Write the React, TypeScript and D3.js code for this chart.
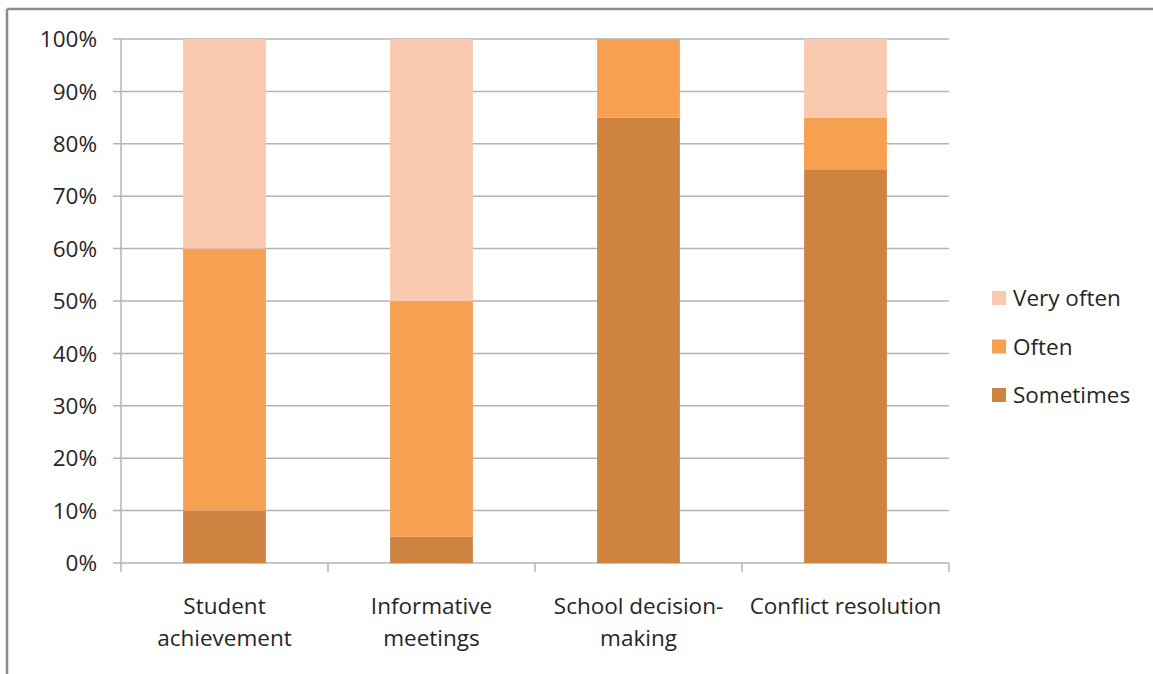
import { useMemo } from "react";
import * as d3 from "d3";

const W = 1153;
const H = 674;
const MARGIN = { top: 39, right: 204, bottom: 111, left: 121 };

const categories = [
  ["Student", "achievement"],
  ["Informative", "meetings"],
  ["School decision-", "making"],
  ["Conflict resolution"],
];
const seriesKeys = ["Sometimes", "Often", "Very often"];
const sometimes = [10, 5, 85, 75];
const often = [50, 45, 15, 10];
const veryOften = [40, 50, 0, 15];
const yTicks = [0, 10, 20, 30, 40, 50, 60, 70, 80, 90, 100];
const colors = ["#CE8440", "#F7A052", "#FAC9AF"];

const FONT = "'Open Sans', sans-serif";

export default function App() {
  const boundsWidth = W - MARGIN.left - MARGIN.right;
  const boundsHeight = H - MARGIN.top - MARGIN.bottom;

  const rows = categories.map((c, i) => ({
    key: c.join(" "),
    Sometimes: sometimes[i],
    Often: often[i],
    "Very often": veryOften[i],
  }));
  const series = d3.stack<any>().keys(seriesKeys)(rows);

  const xScale = useMemo(
    () =>
      d3
        .scaleBand()
        .domain(rows.map((r) => r.key))
        .range([0, boundsWidth])
        .paddingInner(0.6)
        .paddingOuter(0.3),
    [boundsWidth]
  );
  const yScale = d3.scaleLinear().domain([0, 100]).range([boundsHeight, 0]);
  const color = d3.scaleOrdinal<string>().domain(seriesKeys).range(colors);

  const step = boundsWidth / categories.length;
  const catTicks = d3.range(categories.length + 1).map((i) => i * step);

  return (
    <div style={{ position: "fixed", left: 0, top: 0 }}>
      <svg width={W} height={H} style={{ display: "block", background: "#fff" }}>
        {/* outer frame */}
        <line x1={7} x2={7} y1={9} y2={H} stroke="#8c8c8c" strokeWidth={2.5} />
        <line x1={7} x2={W} y1={9} y2={9} stroke="#8c8c8c" strokeWidth={2.5} />
        <g transform={`translate(${MARGIN.left},${MARGIN.top})`}>
          {yTicks.map((t) => (
            <g key={t}>
              <line x1={-8} x2={boundsWidth} y1={yScale(t)} y2={yScale(t)} stroke="#b3b3b3" strokeWidth={1.5} />
              <text
                x={-24}
                y={yScale(t)}
                dy="0.36em"
                textAnchor="end"
                fontFamily={FONT}
                fontSize={22.5}
                fill="#262626"
              >
                {t}%
              </text>
            </g>
          ))}
          {series.map((s, si) => (
            <g key={s.key}>
              {s.map((d: any, j: number) => (
                <rect
                  key={j}
                  x={xScale(d.data.key)}
                  y={yScale(d[1])}
                  width={xScale.bandwidth()}
                  height={yScale(d[0]) - yScale(d[1])}
                  fill={color(s.key)}
                />
              ))}
            </g>
          ))}
          <line x1={0} x2={0} y1={0} y2={boundsHeight} stroke="#b3b3b3" strokeWidth={1.5} />
          {catTicks.map((x, i) => (
            <line key={i} x1={x} x2={x} y1={boundsHeight} y2={boundsHeight + 9} stroke="#b3b3b3" strokeWidth={1.5} />
          ))}
          {categories.map((lines, i) => {
            const cx = (xScale(rows[i].key) ?? 0) + xScale.bandwidth() / 2;
            return (
              <text key={i} textAnchor="middle" fontFamily={FONT} fontSize={22.5} fill="#262626">
                {lines.map((ln, k) => (
                  <tspan key={k} x={cx} y={boundsHeight + 51 + k * 32}>
                    {ln}
                  </tspan>
                ))}
              </text>
            );
          })}
        </g>
        <g transform="translate(992,0)">
          {[...seriesKeys].reverse().map((k, i) => (
            <g key={k} transform={`translate(0,${298 + i * 48.5})`}>
              <rect x={0} y={-7} width={14} height={14} fill={color(k)} />
              <text x={21} y={0} dy="0.36em" fontFamily={FONT} fontSize={22.5} fill="#262626">
                {k}
              </text>
            </g>
          ))}
        </g>
      </svg>
    </div>
  );
}
